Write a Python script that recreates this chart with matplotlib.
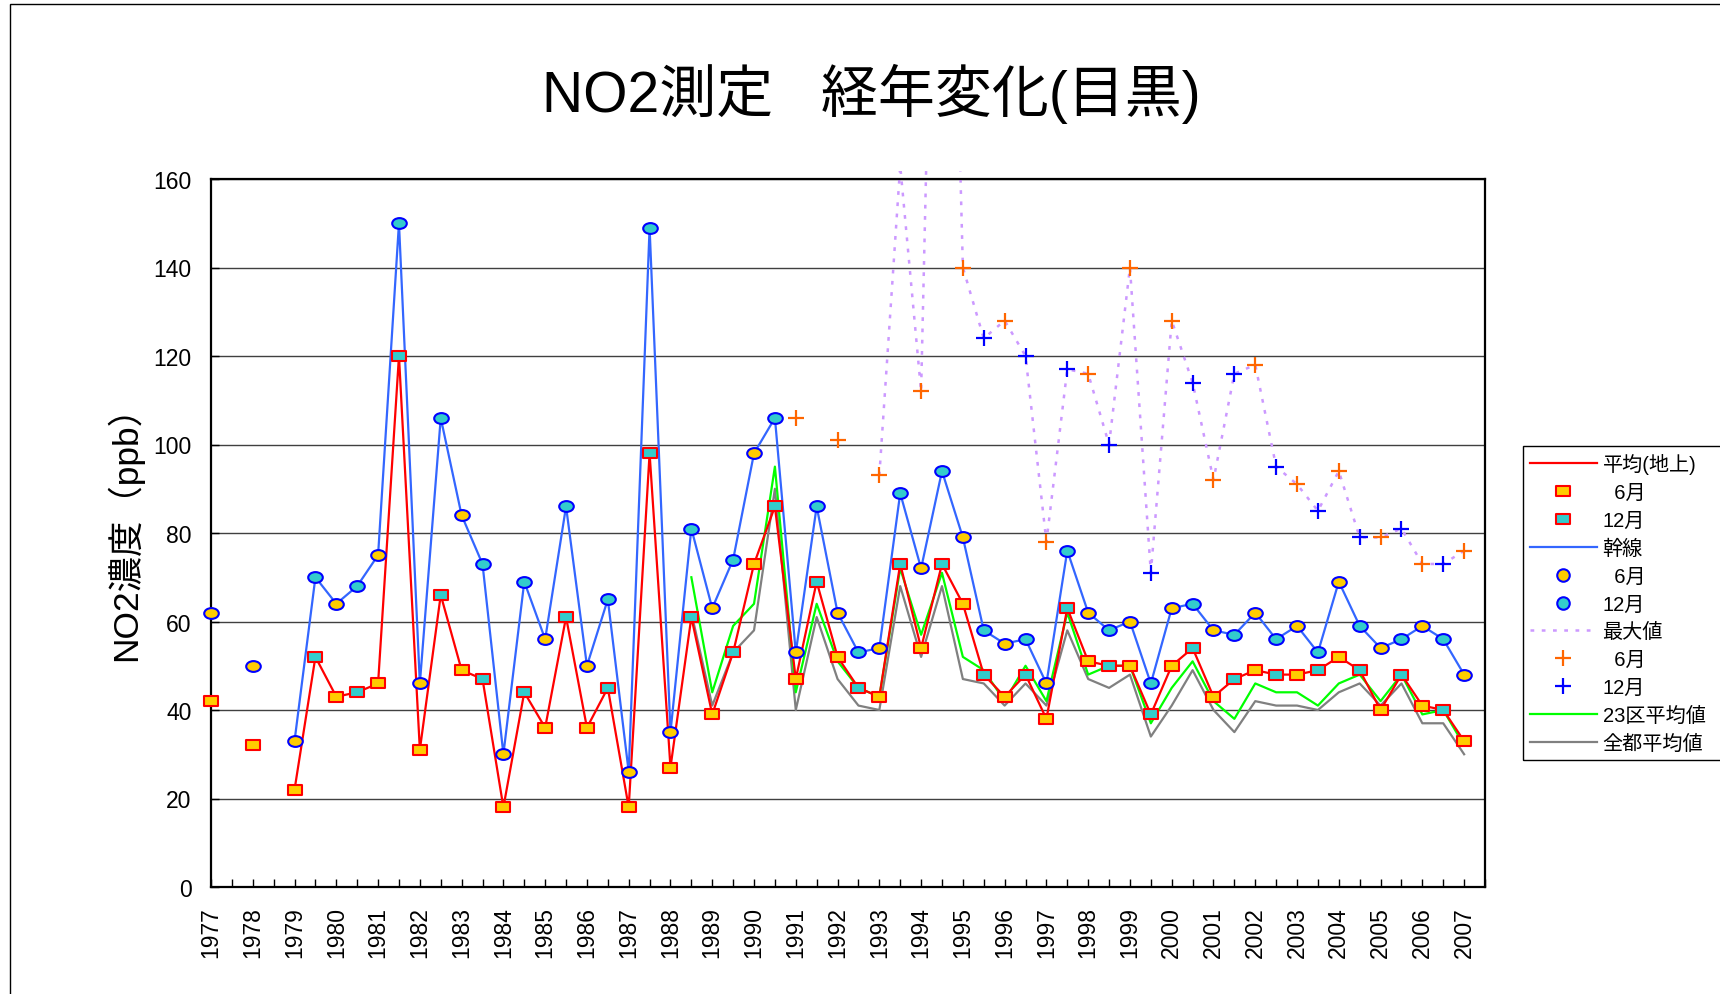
import numpy as np
import matplotlib
matplotlib.use('Agg')
from matplotlib import pyplot as plt
from matplotlib.path import Path
from matplotlib.lines import Line2D
from matplotlib.patches import Rectangle

plt.rcParams['font.family'] = ['Liberation Sans', 'Noto Sans CJK JP', 'DejaVu Sans']

nan = np.nan

# half-year slots: 1977 June, 1977 Dec, 1978 June, ... 2007 June
years = list(range(1977, 2008))

# 平均(地上)
ground = [42, nan, 32, nan, 22, 52, 43, 44, 46, 120, 31, 66, 49, 47, 18, 44, 36, 61, 36, 45,
          18, 98, 27, 61, 39, 53, 73, 86, 47, 69, 52, 45, 43, 73, 54, 73, 64, 48, 43, 48,
          38, 63, 51, 50, 50, 39, 50, 54, 43, 47, 49, 48, 48, 49, 52, 49, 40, 48, 41, 40, 33]
# 幹線
trunk = [62, nan, 50, nan, 33, 70, 64, 68, 75, 150, 46, 106, 84, 73, 30, 69, 56, 86, 50, 65,
         26, 149, 35, 81, 63, 74, 98, 106, 53, 86, 62, 53, 54, 89, 72, 94, 79, 58, 55, 56,
         46, 76, 62, 58, 60, 46, 63, 64, 58, 57, 62, 56, 59, 53, 69, 59, 54, 56, 59, 56, 48]
# 最大値
maxval = [nan] * 28 + [106, nan, 101, nan, 93, 163, 112, 320, 140, 124, 128, 120,
                       78, 117, 116, 100, 140, 71, 128, 114, 92, 116, 118, 95, 91, 85, 94, 79, 79, 81, 73, 73, 76]
# 23区平均値
ku23 = [nan] * 23 + [70, 44, 59, 64, 95, 44, 64, 51, 45, 43, 72, 57, 71, 52, 49, 42, 50,
                     42, 62, 48, 50, 50, 37, 45, 51, 42, 38, 46, 44, 44, 41, 46, 48, 42, 48, 39, 40, 32]
# 全都平均値
toto = [nan] * 23 + [62, 41, 53, 58, 90, 40, 61, 47, 41, 40, 68, 52, 68, 47, 46, 41, 46,
                     41, 58, 47, 45, 48, 34, 41, 49, 40, 35, 42, 41, 41, 40, 44, 46, 41, 46, 37, 37, 30]

ground = np.array(ground, dtype=float)
trunk = np.array(trunk, dtype=float)
maxval = np.array(maxval, dtype=float)
ku23 = np.array(ku23, dtype=float)
toto = np.array(toto, dtype=float)

x = np.arange(len(ground))
jun = x[x % 2 == 0]
dec = x[x % 2 == 1]

# slightly wide markers, as in the original sheet
uc = Path.unit_circle()
ellipse = Path(uc.vertices * [1, 0.74], uc.codes)
rect = Path([(-1, -0.74), (1, -0.74), (1, 0.74), (-1, 0.74), (-1, -0.74)], closed=True)

GOLD = '#FFCC00'
TEAL = '#33CCCC'
MS = 10.5

fig = plt.figure(figsize=(17.2, 9.95), dpi=100)
ax = fig.add_axes([211 / 1720, 1 - 888 / 995, (1485 - 211) / 1720, (888 - 180) / 995])

ax.plot(x, toto, color='#808080', lw=1.6, zorder=2)
ax.plot(x, ku23, color='#00FF00', lw=1.6, zorder=2)

mline, = ax.plot(x, maxval, color='#CC99FF', lw=1.8, ls=(0, (1.5, 3)), zorder=2)
mline.set_clip_path(Rectangle((0, 0), 1, 161.8 / 160, transform=ax.transAxes))
ax.plot(jun, maxval[jun], ls='none', marker='+', ms=12, mew=1.6, color='#FF6600', zorder=3)
ax.plot(dec, maxval[dec], ls='none', marker='+', ms=12, mew=1.6, color='#0000FF', zorder=3)

ax.plot(x, ground, color='#FF0000', lw=1.6, zorder=3, clip_on=False)
ax.plot(x, trunk, color='#3366FF', lw=1.6, zorder=3, clip_on=False)

ax.plot(jun, ground[jun], ls='none', marker=rect, ms=MS, mfc=GOLD, mec='#FF0000', mew=1.5, zorder=4, clip_on=False)
ax.plot(dec, ground[dec], ls='none', marker=rect, ms=MS, mfc=TEAL, mec='#FF0000', mew=1.5, zorder=4, clip_on=False)
ax.plot(jun, trunk[jun], ls='none', marker=ellipse, ms=MS, mfc=GOLD, mec='#0000FF', mew=1.5, zorder=4, clip_on=False)
ax.plot(dec, trunk[dec], ls='none', marker=ellipse, ms=MS, mfc=TEAL, mec='#0000FF', mew=1.5, zorder=4, clip_on=False)

ax.set_xlim(0, len(x))
ax.set_ylim(0, 160)
ax.set_yticks(np.arange(0, 161, 20))
ax.set_xticks(np.arange(0, len(x) + 1))
ax.set_xticklabels([str(years[i // 2]) if i % 2 == 0 and i // 2 < len(years) else '' for i in range(len(x) + 1)],
                   rotation=90)
ax.tick_params(axis='both', direction='in', length=6, width=1, labelsize=16.5, pad=14)
ax.yaxis.grid(True, color='#404040', lw=1.0)
ax.set_axisbelow(True)
for s in ax.spines.values():
    s.set_linewidth(1.6)
    s.set_color('black')

fig.text(871 / 1720, 1 - 94 / 995, 'NO2測定   経年変化(目黒)', ha='center', va='center', fontsize=41)
fig.text(124 / 1720, 1 - 525 / 995, 'NO2濃度（ppb）', ha='center', va='center', rotation=90, fontsize=25.5)

# legend
handles = [
    Line2D([], [], color='#FF0000', lw=1.6),
    Line2D([], [], ls='none', marker=rect, ms=MS, mfc=GOLD, mec='#FF0000', mew=1.5),
    Line2D([], [], ls='none', marker=rect, ms=MS, mfc=TEAL, mec='#FF0000', mew=1.5),
    Line2D([], [], color='#3366FF', lw=1.6),
    Line2D([], [], ls='none', marker='o', ms=9, mfc=GOLD, mec='#0000FF', mew=1.5),
    Line2D([], [], ls='none', marker='o', ms=9, mfc=TEAL, mec='#0000FF', mew=1.5),
    Line2D([], [], color='#CC99FF', lw=1.8, ls=(0, (1.5, 3))),
    Line2D([], [], ls='none', marker='+', ms=12, mew=1.6, color='#FF6600'),
    Line2D([], [], ls='none', marker='+', ms=12, mew=1.6, color='#0000FF'),
    Line2D([], [], color='#00FF00', lw=1.6),
    Line2D([], [], color='#808080', lw=1.6),
]
labels = ['平均(地上)', '  6月', '12月', '幹線', '  6月', '12月', '最大値', '  6月', '12月', '23区平均値', '全都平均値']
leg = fig.legend(handles, labels, loc='upper left', bbox_to_anchor=(1523 / 1720, 1 - 447 / 995),
                 fontsize=14.5, frameon=False, handlelength=3.3, labelspacing=0.44,
                 borderpad=0.35, handletextpad=0.3, borderaxespad=0)

# legend box runs off the right edge in the original, so draw it by hand
fig.canvas.draw()
bb = leg.get_window_extent().transformed(fig.transFigure.inverted())
fig.add_artist(Rectangle((bb.x0, bb.y0), 0.2, bb.height, transform=fig.transFigure,
                         fill=False, edgecolor='black', lw=1.0))

# outer chart frame (cut off on the right and bottom in the original)
fig.add_artist(Rectangle((10 / 1720, -0.1), 1.2, 1.1 - 5 / 995, transform=fig.transFigure,
                         fill=False, edgecolor='black', lw=1.0))

plt.savefig('out.png', dpi=100)
plt.close()
